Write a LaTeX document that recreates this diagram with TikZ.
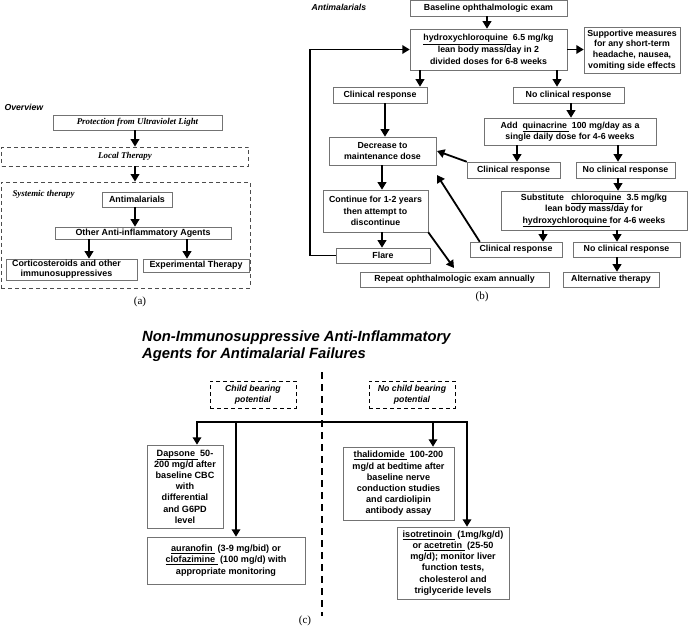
\documentclass[tikz,border=0pt]{standalone}
\usepackage{fontspec}
\setmainfont{Liberation Serif}
\setsansfont{Liberation Sans}
\usetikzlibrary{arrows.meta}
\begin{document}
\begin{tikzpicture}[x=1pt, y=-1pt,
  bx/.style={draw=black!55, line width=0.5pt, fill=white, align=center, inner sep=0pt,
             font=\sffamily\bfseries\fontsize{8.8}{11.3}\selectfont},
  wh/.style 2 args={minimum width=#1pt, minimum height=#2pt},
  arr/.style={line width=1.8pt, -{Triangle[width=8.5pt,length=7.5pt]}},
  cfont/.style={font=\sffamily\bfseries\fontsize{9.1}{11.2}\selectfont},
  afont/.style={font=\sffamily\bfseries\fontsize{8.9}{10}\selectfont},
  serit/.style={font=\bfseries\itshape\fontsize{8.9}{10}\selectfont},
  sfit/.style={font=\sffamily\bfseries\itshape\fontsize{8.7}{10.5}\selectfont},
  dbox/.style={draw=black!70, line width=0.7pt, dash pattern=on 4pt off 3pt},
  cbox/.style={draw=black, line width=0.7pt, dash pattern=on 4pt off 3pt, align=center, inner sep=0pt},
  lab/.style={font=\fontsize{11}{12}\selectfont},
  thk/.style={line width=1.8pt}
]
\useasboundingbox (0,0) rectangle (688,628);

%%%%%%%%%%%%%%%%%%%% (a)
\node[sfit, anchor=west] (ov) at (1,107) {Overview};
\node[bx, wh={169}{15}, serit] (prot) at (137.5,122.5) {Protection from Ultraviolet Light};
\node[dbox, wh={247}{19}, serit, inner sep=0pt] (local) at (125,156.5) {Local Therapy};
\node[dbox, wh={249}{106}, inner sep=0pt] (sys) at (125.5,235) {};
\node[serit, anchor=west] (syst) at (9,194) {Systemic therapy};
\node[bx, wh={70}{15}, afont] (anti) at (137,199.5) {Antimalarials};
\node[bx, wh={176}{12}, afont] (other) at (143,233) {Other Anti-inflammatory Agents};
\node[bx, wh={131}{21}, afont] (cort) at (71.5,269.5) {\hspace*{-10pt}Corticosteroids and other\\\hspace*{-10pt}immunosuppressives};
\node[bx, wh={106}{13}, afont] (exp) at (196,265.5) {Experimental Therapy};
\draw[arr] (prot.south -| 135,0) -- (local.north -| 135,0);
\draw[arr] (local.south -| 135,0) -- (sys.north -| 135,0);
\draw[arr] (anti.south -| 135,0) -- (other.north -| 135,0);
\draw[arr] (other.south -| 89,0) -- (cort.north -| 89,0);
\draw[arr] (other.south -| 187,0) -- (exp.north -| 187,0);
\node[lab] (la) at (140,302) {(a)};

%%%%%%%%%%%%%%%%%%%% (b)
\node[sfit, anchor=west] (amt) at (308,7) {Antimalarials};
\node[bx, wh={157}{15.5}] (base) at (488.5,8.5) {Baseline ophthalmologic exam};
\node[bx, wh={157}{41}, font=\sffamily\bfseries\fontsize{8.8}{12}\selectfont] (hcq) at (488.5,49.5)
  {\underline{hydroxychloroquine\ } 6.5 mg/kg\\lean body mass/day in 2\\divided doses for 6-8 weeks};
\node[bx, wh={96}{46}, font=\sffamily\bfseries\fontsize{8.8}{10.6}\selectfont] (supp) at (632,50)
  {Supportive measures\\for any short-term\\headache, nausea,\\vomiting side effects};
\node[bx, wh={94}{16}] (cr1) at (380,95) {Clinical response};
\node[bx, wh={111}{16}] (ncr1) at (568.5,95) {No clinical response};
\node[bx, wh={172}{27}] (quin) at (570,131.5) {Add \ \underline{quinacrine\ } 100 mg/day as a\\single daily dose for 4-6 weeks};
\node[bx, wh={107}{28}] (dec) at (382.5,151) {Decrease to\\maintenance dose};
\node[bx, wh={93}{16}] (cr2) at (513.5,170) {Clinical response};
\node[bx, wh={99}{16}] (ncr2) at (625.5,170) {No clinical response};
\node[bx, wh={105}{42}, font=\sffamily\bfseries\fontsize{8.8}{11.5}\selectfont] (cont) at (375.5,211) {Continue for 1-2 years\\then attempt to\\discontinue};
\node[bx, wh={186}{39}, font=\sffamily\bfseries\fontsize{8.8}{11.7}\selectfont] (subst) at (594,210.5)
  {Substitute \ \ \underline{chloroquine\ } 3.5 mg/kg\\lean body mass/day for\\\underline{hydroxychloroquine\ }for 4-6 weeks};
\node[bx, wh={94}{15}] (flare) at (383,255.5) {Flare};
\node[bx, wh={92}{15}] (cr3) at (516,249.5) {Clinical response};
\node[bx, wh={107}{15}] (ncr3) at (626.5,249.5) {No clinical response};
\node[bx, wh={189}{15}] (rep) at (454.5,279.5) {Repeat ophthalmologic exam annually};
\node[bx, wh={96}{15}] (alt) at (611,279.5) {Alternative therapy};
\coordinate (decin1) at (437,151);
\coordinate (decin2) at (437,175);
\coordinate (repin) at (454,268);

\draw[arr] (base.south -| 487,0) -- (hcq.north -| 487,0);
\draw[arr] (hcq.east) -- (supp.west |- hcq.east);
\draw[arr] (hcq.south -| 420,0) -- (cr1.north -| 420,0);
\draw[arr] (hcq.south -| 557,0) -- (ncr1.north -| 557,0);
\draw[arr] (ncr1.south -| 571,0) -- (quin.north -| 571,0);
\draw[arr] (cr1.south -| 385,0) -- (dec.north -| 385,0);
\draw[arr] (quin.south -| 517,0) -- (cr2.north -| 517,0);
\draw[arr] (quin.south -| 618,0) -- (ncr2.north -| 618,0);
\draw[arr] (cr2.north west) -- (decin1);
\draw[arr] (dec.south -| 382,0) -- (cont.north -| 382,0);
\draw[arr] (cont.south -| 382,0) -- (flare.north -| 382,0);
\draw[arr] (cont.south east) -- (repin);
\draw[arr] (ncr2.south -| 618,0) -- (subst.north -| 618,0);
\draw[arr] (subst.south -| 543,0) -- (cr3.north -| 543,0);
\draw[arr] (subst.south -| 617,0) -- (ncr3.north -| 617,0);
\draw[arr] (cr3.north west) ++(10,0) -- (decin2);
\draw[arr] (ncr3.south -| 617,0) -- (alt.north -| 617,0);
\draw[arr, line join=miter] (flare.west) -- (flare.west -| 310,0) -- (hcq.west -| 310,0) -- (hcq.west);
\node[lab] (lb) at (482,297) {(b)};

%%%%%%%%%%%%%%%%%%%% (c)
\node[anchor=north west, align=left, inner sep=0pt,
      font=\sffamily\bfseries\itshape\fontsize{14.8}{17}\selectfont] (title) at (142,331)
  {Non-Immunosuppressive Anti-Inflammatory\\Agents for Antimalarial Failures};
\coordinate (vtop) at (322,372);
\coordinate (vbot) at (322,616);
\draw[line width=2.4pt, dash pattern=on 7pt off 5pt] (vtop) -- (vbot);
\node[cbox, wh={86}{27}, sfit] (cbp) at (253,394.5) {Child bearing\\potential};
\node[cbox, wh={86}{27}, sfit] (ncbp) at (412,394.5) {No child bearing\\potential};
\node[bx, wh={76}{83}, cfont] (daps) at (185,486.5)
  {\underline{Dapsone\ } 50-\\200 mg/d after\\baseline CBC\\with\\differential\\and G6PD\\level};
\node[bx, wh={158}{47}, cfont] (aura) at (226,560.5)
  {\underline{auranofin\ } (3-9 mg/bid) or\\\underline{clofazimine\ } (100 mg/d) with\\appropriate monitoring};
\node[bx, wh={111}{73}, cfont] (thal) at (398.5,483.5)
  {\underline{thalidomide\ } 100-200\\mg/d at bedtime after\\baseline nerve\\conduction studies\\and cardiolipin\\antibody assay};
\node[bx, wh={112}{72}, cfont] (iso) at (453,563)
  {\underline{isotretinoin\ } (1mg/kg/d)\\or \underline{acetretin\ } (25-50\\mg/d); monitor liver\\function tests,\\cholesterol and\\triglyceride levels};
\coordinate (hl) at (197,422);
\coordinate (hr) at (467,422);
\draw[arr, line join=miter] (hr) -- (hl) -- (hl |- daps.north);
\draw[arr, line join=miter] (hl) -- (hr) -- (hr |- iso.north);
\draw[arr] (hl -| 236,0) -- (aura.north -| 236,0);
\draw[arr] (hl -| 433,0) -- (thal.north -| 433,0);
\node[lab] (lc) at (305,621) {(c)};
\end{tikzpicture}
\end{document}
